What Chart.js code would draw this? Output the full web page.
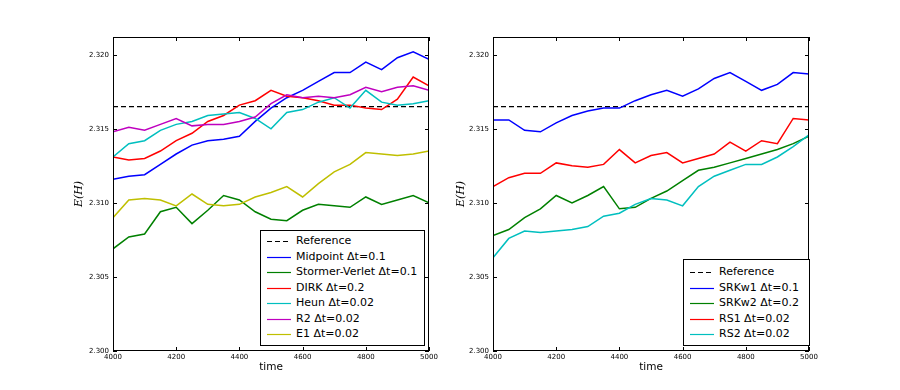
<!DOCTYPE html>
<html>
<head>
<meta charset="utf-8">
<script src="https://cdn.jsdelivr.net/npm/chart.js@4/dist/chart.umd.min.js"></script>
<style>
  body { margin: 0; background: #fff; }
  #wrap { position: relative; width: 900px; height: 390px; overflow: hidden; }
  canvas { position: absolute; top: 0; }
  .legend { position: absolute; border: 1px solid #000; background: #fff; box-sizing: border-box;
            font-family: "DejaVu Sans", sans-serif; font-size: 11px; color: #000; }
  .legend .row { position: absolute; left: 0; height: 14px; line-height: 14px; white-space: nowrap; }
  .legend svg { position: absolute; left: 6px; top: 0; }
  .legend span { position: absolute; left: 35px; top: 0; }
</style>
</head>
<body>
<div id="wrap">
  <canvas id="left" width="450" height="390" style="left:0"></canvas>
  <canvas id="right" width="450" height="390" style="left:450px"></canvas>
</div>
<script>
// sample times (every 50 time units)
var times = [4000, 4050, 4100, 4150, 4200, 4250, 4300, 4350, 4400, 4450, 4500,
             4550, 4600, 4650, 4700, 4750, 4800, 4850, 4900, 4950, 5000];
var refValue = 2.3165;

// left panel
var midpoint = [2.3116, 2.3118, 2.3119, 2.3126, 2.3133, 2.3139, 2.3142, 2.3143, 2.3145, 2.3155, 2.3164,
                2.3171, 2.3176, 2.3182, 2.3188, 2.3188, 2.3195, 2.3190, 2.3198, 2.3202, 2.3197];
var stormer = [2.3069, 2.3077, 2.3079, 2.3094, 2.3097, 2.3086, 2.3095, 2.3105, 2.3102, 2.3094, 2.3089,
               2.3088, 2.3095, 2.3099, 2.3098, 2.3097, 2.3104, 2.3099, 2.3102, 2.3105, 2.3100];
var dirk = [2.3131, 2.3129, 2.3130, 2.3135, 2.3142, 2.3147, 2.3155, 2.3159, 2.3166, 2.3169, 2.3176,
            2.3172, 2.3171, 2.3169, 2.3166, 2.3166, 2.3164, 2.3163, 2.3170, 2.3185, 2.3179];
var heun = [2.3131, 2.3140, 2.3142, 2.3149, 2.3153, 2.3155, 2.3159, 2.3160, 2.3161, 2.3157, 2.3150,
            2.3161, 2.3163, 2.3168, 2.3171, 2.3164, 2.3176, 2.3168, 2.3166, 2.3167, 2.3169];
var r2 = [2.3148, 2.3151, 2.3149, 2.3153, 2.3157, 2.3152, 2.3153, 2.3153, 2.3155, 2.3158, 2.3167,
          2.3173, 2.3171, 2.3172, 2.3171, 2.3173, 2.3178, 2.3175, 2.3178, 2.3179, 2.3176];
var e1 = [2.3090, 2.3102, 2.3103, 2.3102, 2.3098, 2.3106, 2.3099, 2.3098, 2.3099, 2.3104, 2.3107,
          2.3111, 2.3104, 2.3113, 2.3121, 2.3126, 2.3134, 2.3133, 2.3132, 2.3133, 2.3135];

// right panel
var srkw1 = [2.3156, 2.3156, 2.3149, 2.3148, 2.3154, 2.3159, 2.3162, 2.3164, 2.3164, 2.3169, 2.3173,
             2.3176, 2.3172, 2.3177, 2.3184, 2.3188, 2.3182, 2.3176, 2.3180, 2.3188, 2.3187];
var srkw2 = [2.3078, 2.3082, 2.3090, 2.3096, 2.3105, 2.3100, 2.3105, 2.3111, 2.3096, 2.3097, 2.3103,
             2.3108, 2.3115, 2.3122, 2.3124, 2.3127, 2.3130, 2.3133, 2.3136, 2.3140, 2.3145];
var rs1 = [2.3111, 2.3117, 2.3120, 2.3120, 2.3127, 2.3125, 2.3124, 2.3126, 2.3136, 2.3127, 2.3132,
           2.3134, 2.3127, 2.3130, 2.3133, 2.3141, 2.3135, 2.3142, 2.3140, 2.3157, 2.3156];
var rs2 = [2.3063, 2.3076, 2.3081, 2.3080, 2.3081, 2.3082, 2.3084, 2.3091, 2.3093, 2.3099, 2.3103,
           2.3102, 2.3098, 2.3111, 2.3118, 2.3122, 2.3126, 2.3126, 2.3131, 2.3138, 2.3146];

var leftSeries = [
  {label: 'Midpoint \u0394t=0.1', colour: '#0000ff', values: midpoint},
  {label: 'Stormer-Verlet \u0394t=0.1', colour: '#008000', values: stormer},
  {label: 'DIRK \u0394t=0.2', colour: '#ff0000', values: dirk},
  {label: 'Heun \u0394t=0.02', colour: '#00bfbf', values: heun},
  {label: 'R2 \u0394t=0.02', colour: '#bf00bf', values: r2},
  {label: 'E1 \u0394t=0.02', colour: '#bfbf00', values: e1}
];
var rightSeries = [
  {label: 'SRKw1 \u0394t=0.1', colour: '#0000ff', values: srkw1},
  {label: 'SRKw2 \u0394t=0.2', colour: '#008000', values: srkw2},
  {label: 'RS1 \u0394t=0.02', colour: '#ff0000', values: rs1},
  {label: 'RS2 \u0394t=0.02', colour: '#00bfbf', values: rs2}
];

// matplotlib style box with inward ticks on all four sides
var framePlugin = {
  id: 'frame',
  afterDraw: function(chart){
    var ctx = chart.ctx, a = chart.chartArea;
    var x = chart.scales.x, y = chart.scales.y;
    ctx.save();
    ctx.strokeStyle = '#000';
    ctx.lineWidth = 1;
    ctx.strokeRect(Math.round(a.left) + 0.5, Math.round(a.top) + 0.5,
                   Math.round(a.right - a.left) - 1, Math.round(a.bottom - a.top) - 1);
    ctx.beginPath();
    x.ticks.forEach(function(t){
      var px = Math.round(x.getPixelForValue(t.value)) + 0.5;
      ctx.moveTo(px, a.bottom); ctx.lineTo(px, a.bottom - 4);
      ctx.moveTo(px, a.top); ctx.lineTo(px, a.top + 4);
    });
    y.ticks.forEach(function(t){
      var py = Math.round(y.getPixelForValue(t.value)) + 0.5;
      ctx.moveTo(a.left, py); ctx.lineTo(a.left + 4, py);
      ctx.moveTo(a.right, py); ctx.lineTo(a.right - 4, py);
    });
    ctx.stroke();
    ctx.restore();
  }
};

function makeChart(id, series, yWidth, padRight, yTitlePad){
  var datasets = [{
    label: 'Reference',
    data: [{x: times[0], y: refValue}, {x: times[times.length - 1], y: refValue}],
    borderColor: '#000', borderWidth: 1.3, borderDash: [5, 3], order: series.length + 1
  }];
  series.forEach(function(s, i){
    datasets.push({
      label: s.label,
      data: times.map(function(t, j){ return {x: t, y: s.values[j]}; }),
      borderColor: s.colour, borderWidth: 1.5, order: series.length - i
    });
  });
  return new Chart(document.getElementById(id), {
    type: 'line',
    data: {datasets: datasets},
    plugins: [framePlugin],
    options: {
      responsive: false,
      animation: false,
      events: [],
      layout: {padding: {left: 0, right: padRight, top: 37, bottom: 0}},
      elements: {point: {radius: 0}, line: {tension: 0}},
      plugins: {legend: {display: false}, tooltip: {enabled: false}},
      scales: {
        x: {
          type: 'linear', min: 4000, max: 5000,
          grid: {display: false, drawTicks: false}, border: {display: false},
          ticks: {stepSize: 200, padding: 2, color: '#000', maxRotation: 0,
                  font: {family: 'DejaVu Sans', size: 7},
                  callback: function(v){ return String(v); }},
          title: {display: true, text: 'time', color: '#000',
                  font: {family: 'DejaVu Sans', size: 10.5},
                  padding: {top: 0, bottom: 16}},
          afterFit: function(s){ s.height = 39; }
        },
        y: {
          type: 'linear', min: 2.300, max: 2.3212,
          grid: {display: false, drawTicks: false}, border: {display: false},
          ticks: {stepSize: 0.005, includeBounds: false, padding: 4, color: '#000',
                  font: {family: 'DejaVu Sans', size: 7},
                  callback: function(v){ return v.toFixed(3); }},
          title: {display: true, text: 'E(H)', color: '#000',
                  font: {family: 'DejaVu Serif', size: 11, style: 'italic'},
                  padding: {top: yTitlePad, bottom: 0}},
          afterFit: function(s){ s.width = yWidth; }
        }
      }
    }
  });
}

function makeLegend(series, box){
  var div = document.createElement('div');
  div.className = 'legend';
  div.style.left = box.left + 'px';
  div.style.top = box.top + 'px';
  div.style.width = box.width + 'px';
  div.style.height = box.height + 'px';
  var items = [{label: 'Reference', colour: '#000', dash: true}].concat(series);
  items.forEach(function(s, i){
    var row = document.createElement('div');
    row.className = 'row';
    row.style.top = (box.first + i * box.step - 7) + 'px';
    row.innerHTML = '<svg width="24" height="14"><line x1="0" y1="7.5" x2="24" y2="7.5" stroke="' + s.colour +
      '" stroke-width="1.2"' + (s.dash ? ' stroke-dasharray="5,3"' : '') + '/></svg><span>' + s.label + '</span>';
    div.appendChild(row);
  });
  document.getElementById('wrap').appendChild(div);
}

makeChart('left', leftSeries, 113, 21, 73);
makeChart('right', rightSeries, 43, 91, 5);
makeLegend(leftSeries, {left: 260, top: 230, width: 165, height: 116, first: 10, step: 15.5});
makeLegend(rightSeries, {left: 683, top: 259, width: 127, height: 87, first: 12, step: 15.5});
</script>
</body>
</html>
